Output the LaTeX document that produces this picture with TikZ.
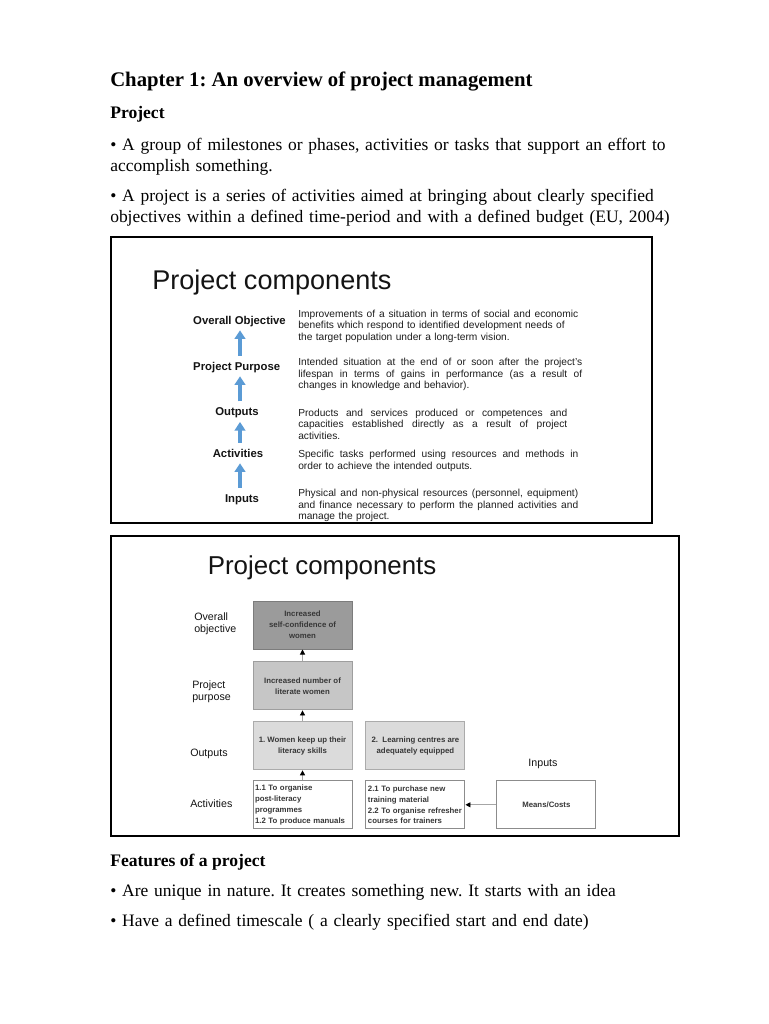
\documentclass[tikz,border=0pt]{standalone}
\usepackage{fontspec}
\setmainfont{Liberation Serif}
\newfontfamily\slidefont{Liberation Sans}
\usetikzlibrary{positioning,arrows.meta}
\definecolor{arrowblue}{RGB}{91,155,213}
\definecolor{slidetext}{RGB}{20,20,20}
\definecolor{desctext}{RGB}{30,30,30}
\definecolor{darkfill}{RGB}{155,155,155}
\definecolor{midfill}{RGB}{198,198,198}
\definecolor{lightfill}{RGB}{219,219,219}
\definecolor{boxline}{RGB}{140,140,140}
\definecolor{boxtext}{RGB}{55,55,55}
\newcommand{\fitline}[1]{\leavevmode\hbox to\hsize{\spaceskip=0pt\xspaceskip=0pt\relax #1}}
\frenchspacing

\begin{document}
\begin{tikzpicture}[
    x=0.75pt, y=-0.75pt,
    heading/.style={anchor=base west, inner sep=0pt, font=\bfseries\fontsize{15.55}{18}\selectfont},
    subhead/.style={anchor=base west, inner sep=0pt, font=\bfseries\fontsize{13.2}{15.75}\selectfont},
    bodytext/.style={anchor=base west, inner sep=0pt, text width=450pt, align=left, font=\fontsize{13.1}{15.75}\selectfont},
    slideframe/.style={draw=black, line width=1.5pt},
    slidetitle/.style={anchor=base west, inner sep=0pt, text=slidetext, font=\slidefont\fontsize{20.3}{24}\selectfont},
    stagelabel/.style={anchor=base, inner sep=0pt, text height=0.75em, text depth=0.25em, text=slidetext, font=\slidefont\bfseries\fontsize{8.5}{10}\selectfont},
    desc/.style={anchor=base west, inner sep=0pt, align=left, text=desctext, font=\slidefont\fontsize{7.65}{8.8}\selectfont},
    uparrow/.style={-{Triangle[length=6.5pt,width=8pt]}, draw=arrowblue, line width=2.6pt, shorten <=3pt, shorten >=2pt},
    rowlabel/.style={anchor=base west, inner sep=0pt, text width=45pt, align=left, text=slidetext, font=\slidefont\fontsize{8}{9.2}\selectfont},
    box/.style={draw=boxline, line width=0.7pt, minimum width=74.25pt, minimum height=36pt, inner sep=1.5pt, align=center, text=boxtext, font=\slidefont\bfseries\fontsize{5.85}{8.2}\selectfont},
    goalbox/.style={box, fill=darkfill, draw=darkfill!80!black},
    purposebox/.style={box, fill=midfill, draw=midfill!80!black},
    outputbox/.style={box, fill=lightfill, draw=lightfill!78!black},
    activitybox/.style={box, fill=white, text width=71.25pt, align=left},
    smallarrow/.style={-{Triangle[length=3.8pt,width=3.8pt,color=black]}, draw=gray!70, line width=0.7pt}
]

\fill[white] (0,0) rectangle (768,1024);
\useasboundingbox (0,0) rectangle (768,1024);

\node[heading] (chapter) at (110,87) {Chapter 1: An overview of project management};
\node[subhead] (project) at (110,118) {Project};
\node[bodytext] (def1) at (110,150) {• A group of milestones or phases, activities or tasks that support an effort to\\accomplish something.};
\node[bodytext] (def2) at (110,201) {• A project is a series of activities aimed at bringing about clearly specified\\objectives within a defined time-period and with a defined budget (EU, 2004)};

\draw[slideframe] (111,237) rectangle (652,523);
\node[slidetitle] (title1) at (152,289) {Project components};

\node[stagelabel] (objective) at (239.5,324) {Overall Objective};
\node[stagelabel] (purpose) at (236.7,370) {Project Purpose};
\node[stagelabel] (outputs) at (237,415.7) {Outputs};
\node[stagelabel] (activities) at (238,457) {Activities};
\node[stagelabel] (inputs) at (242,502) {Inputs};
\coordinate (arrx) at (240,0);

\draw[uparrow] (purpose.north -| arrx) -- (objective.south -| arrx);
\draw[uparrow] (outputs.north -| arrx) -- (purpose.south -| arrx);
\draw[uparrow] (activities.north -| arrx) -- (outputs.south -| arrx);
\draw[uparrow] (inputs.north -| arrx) -- (activities.south -| arrx);

\node[desc, text width=210pt] (objdesc) at (298,317) {\fitline{Improvements of a situation in terms of social and economic}\\benefits which respond to identified development needs of\\the target population under a long-term vision.};
\node[desc, text width=213pt] (purpdesc) at (298,365.5) {\fitline{Intended situation at the end of or soon after the project’s}\\\fitline{lifespan in terms of gains in performance (as a result of}\\changes in knowledge and behavior).};
\node[desc, text width=201.75pt] (outdesc) at (298,416) {\fitline{Products and services produced or competences and}\\\fitline{capacities established directly as a result of project}\\activities.};
\node[desc, text width=210pt] (actdesc) at (298,457.5) {\fitline{Specific tasks performed using resources and methods in}\\order to achieve the intended outputs.};
\node[desc, text width=210pt] (indesc) at (298,496.5) {\fitline{Physical and non-physical resources (personnel, equipment)}\\\fitline{and finance necessary to perform the planned activities and}\\manage the project.};

\draw[slideframe] (111,536) rectangle (679,836);
\node[slidetitle, font=\slidefont\fontsize{19.4}{23}\selectfont] (title2) at (207.5,574) {Project components};

\node[rowlabel] (rowobj) at (194,620) {Overall\\objective};
\node[rowlabel] (rowpurp) at (192,688) {Project\\purpose};
\node[rowlabel] (rowout) at (190,756.5) {Outputs};
\node[rowlabel] (rowact) at (190,807) {Activities};
\node[rowlabel, anchor=base, text width=] (rowin) at (543,766) {Inputs};

\node[goalbox] (goal) at (302.5,625) {Increased\\self-confidence of\\women};
\node[purposebox, below=9pt of goal] (literate) {Increased number of\\literate women};
\node[outputbox, below=8.25pt of literate] (out1) {1. Women keep up their\\literacy skills};
\node[outputbox, right=9.75pt of out1] (out2) {2.\ \ Learning centres are\\adequately equipped};
\node[activitybox, below=7.5pt of out1] (act1) {1.1 To organise\\post-literacy\\programmes\\1.2 To produce manuals};
\node[activitybox, right=9.75pt of act1] (act2) {2.1 To purchase new\\training material\\2.2 To organise refresher\\courses for trainers};
\node[box, fill=white, right=23.25pt of act2] (means) {Means/Costs};

\draw[smallarrow] (literate) -- (goal);
\draw[smallarrow] (out1) -- (literate);
\draw[smallarrow] (act1) -- (out1);
\draw[smallarrow] (means) -- (act2);

\node[subhead] (features) at (110,866) {Features of a project};
\node[bodytext] (feat1) at (110,896) {• Are unique in nature. It creates something new. It starts with an idea};
\node[bodytext] (feat2) at (110,926) {• Have a defined timescale ( a clearly specified start and end date)};

\end{tikzpicture}
\end{document}
